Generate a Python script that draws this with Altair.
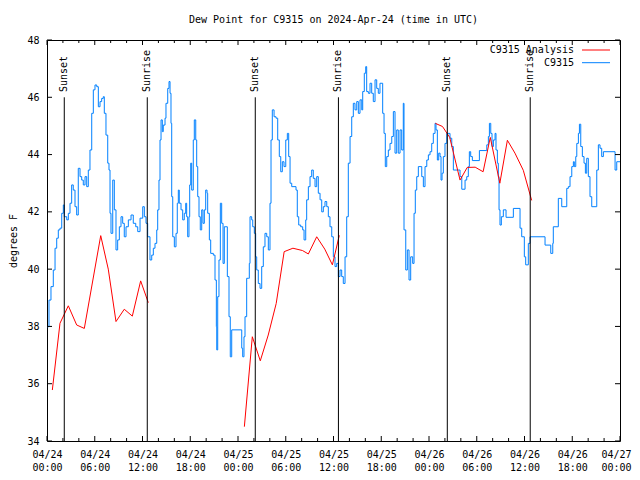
import json
import altair as alt
import pandas as pd

# ---------------- data (hours since 2024-04-24 00:00 UTC, dew point in F) ----------------
blue_hours = [
    0, 0.25, 0.50, 0.79, 1.01, 1.22, 1.42, 1.63, 1.85, 2.05,
    2.17, 2.48, 2.68, 2.89, 3.10, 3.30, 3.52, 3.73, 3.93, 4.15,
    4.36, 4.56, 4.78, 4.99, 5.19, 5.40, 5.62, 5.82, 6.03, 6.25,
    6.45, 6.66, 6.87, 7.07, 7.20, 7.41, 7.63, 7.79, 7.92, 8.04,
    8.26, 8.46, 8.67, 8.88, 9.09, 9.30, 9.51, 9.71, 9.93, 10.22,
    10.56, 10.84, 11.15, 11.40, 11.69, 12.03, 12.23, 12.44, 12.65, 12.94,
    13.16, 13.36, 13.57, 13.79, 13.91, 14.07, 14.20, 14.33, 14.49, 14.61,
    14.83, 14.95, 15.17, 15.33, 15.46, 15.58, 15.67, 15.80, 16.00, 16.21,
    16.37, 16.50, 16.62, 16.84, 17.05, 17.25, 17.43, 17.55, 17.68, 17.84,
    17.93, 18.06, 18.18, 18.38, 18.51, 18.69, 18.81, 18.94, 19.10, 19.26,
    19.44, 19.60, 19.77, 19.94, 20.11, 20.19, 20.40, 20.57, 20.90, 21.11,
    21.28, 21.33, 21.45, 21.61, 21.78, 21.95, 22.12, 22.28, 22.49, 22.66,
    22.87, 23.03, 23.21, 24.25, 24.47, 24.59, 24.75, 24.88, 25.09, 25.30,
    25.42, 25.51, 25.72, 25.85, 26.05, 26.22, 26.35, 26.55, 26.77, 26.98,
    27.18, 27.39, 27.61, 27.81, 28.02, 28.15, 28.31, 28.53, 28.78, 28.99,
    29.19, 29.37, 29.57, 29.78, 30.00, 30.20, 30.37, 30.54, 30.75, 31.29,
    31.45, 31.63, 31.88, 32.13, 32.30, 32.51, 32.63, 32.84, 33.05, 33.26,
    33.46, 33.68, 33.89, 34.09, 34.31, 34.52, 34.72, 34.93, 35.15, 35.35,
    35.56, 35.78, 35.98, 36.19, 36.40, 36.61, 36.82, 37.03, 37.23, 37.45,
    37.66, 37.86, 38.08, 38.29, 38.49, 38.70, 38.92, 39.12, 39.33, 39.55,
    39.67, 39.87, 40.05, 40.17, 40.38, 40.59, 40.80, 41.00, 41.22, 41.43,
    41.63, 41.84, 42.18, 42.35, 42.51, 42.69, 42.89, 43.10, 43.32, 43.52,
    43.73, 43.94, 44.14, 44.36, 44.57, 44.77, 44.86, 45.08, 45.28, 45.49,
    45.70, 45.95, 46.12, 46.28, 46.46, 46.66, 46.87, 47.09, 47.29, 47.50,
    47.72, 47.92, 48.13, 48.34, 48.54, 48.76, 48.88, 49.05, 49.22, 49.39,
    49.51, 49.64, 49.80, 50.01, 50.23, 50.64, 50.86, 51.06, 51.90, 52.12,
    52.53, 52.74, 52.94, 53.07, 53.24, 53.45, 54.33, 55.26, 55.46, 55.59,
    55.76, 55.92, 56.09, 56.30, 56.42, 56.59, 56.71, 56.80, 56.92, 57.09,
    57.34, 57.68, 58.60, 59.44, 59.65, 59.98, 60.15, 60.48, 60.70, 62.58,
    63.30, 63.55, 63.62, 64.25, 64.68, 65.31, 65.51, 65.72, 65.94, 66.14,
    66.26, 66.44, 66.57, 66.77, 66.90, 67.07, 67.27, 67.48, 67.65, 67.82,
    68.02, 68.23, 68.45, 69.08, 69.28, 69.49, 69.70, 69.91, 71.38, 71.59, 72.0,
]
blue_dewpt = [
    37.99, 38.92, 39.39, 39.97, 40.73, 41.08, 41.37, 41.43, 41.95, 42.24,
    41.83, 41.72, 41.95, 42.30, 42.94, 42.76, 42.18, 41.89, 43.52, 43.23,
    43.11, 42.94, 43.23, 42.88, 43.46, 44.16, 45.44, 46.26, 46.43, 46.37,
    45.67, 45.85, 45.96, 46.02, 45.44, 44.68, 43.70, 43.46, 41.95, 41.25,
    43.11, 42.07, 40.67, 41.02, 41.48, 41.83, 41.60, 41.13, 41.48, 41.72,
    41.89, 41.60, 41.48, 41.31, 41.78, 42.18, 41.83, 41.60, 41.13, 40.32,
    40.49, 40.73, 40.90, 41.37, 42.07, 43.11, 44.51, 45.21, 44.80, 45.03,
    45.27, 45.79, 46.31, 46.55, 46.14, 45.09, 42.53, 41.13, 40.78, 41.25,
    42.30, 42.76, 42.30, 42.07, 41.72, 41.95, 42.30, 41.83, 41.13, 41.83,
    42.94, 43.70, 42.76, 44.51, 45.21, 44.51, 43.58, 42.53, 41.83, 41.37,
    42.07, 41.60, 42.07, 42.76, 42.65, 41.95, 41.02, 40.55, 40.49, 39.62,
    37.99, 37.18, 39.04, 40.32, 42.30, 41.60, 40.20, 41.48, 41.48, 39.74,
    38.34, 36.94, 37.88, 37.88, 37.24, 36.94, 37.64, 38.34, 39.68, 39.68,
    40.20, 41.83, 41.72, 41.48, 41.25, 40.43, 39.97, 39.50, 39.33, 40.09,
    40.78, 41.25, 41.13, 40.67, 42.30, 44.51, 45.56, 45.32, 45.27, 44.51,
    43.93, 43.40, 43.75, 43.58, 44.51, 44.74, 43.93, 43.00, 42.88, 42.76,
    41.83, 41.54, 41.48, 41.37, 41.02, 41.72, 42.42, 42.88, 43.23, 43.46,
    43.17, 42.88, 43.23, 42.65, 42.42, 42.00, 42.18, 42.36, 42.18, 41.83,
    41.48, 41.13, 40.43, 40.09, 40.20, 39.74, 39.97, 39.74, 39.50, 40.43,
    41.83, 43.70, 44.63, 45.32, 45.79, 45.56, 45.85, 45.44, 45.91, 45.56,
    46.20, 46.84, 47.07, 46.20, 46.14, 46.49, 46.14, 45.85, 46.61, 46.31,
    46.14, 46.49, 45.44, 44.74, 43.58, 43.93, 44.16, 44.39, 44.63, 45.50,
    44.05, 44.86, 44.05, 44.86, 44.16, 45.79, 41.37, 39.97, 40.67, 39.62,
    40.43, 40.20, 41.95, 42.76, 43.23, 43.58, 43.58, 43.23, 42.88, 43.58,
    43.81, 43.99, 44.10, 44.39, 44.74, 45.09, 44.86, 43.81, 44.05, 43.93,
    43.11, 43.35, 43.93, 44.39, 44.74, 44.57, 44.28, 43.46, 43.23, 42.79,
    43.11, 43.23, 43.58, 44.10, 43.93, 43.79, 44.14, 44.34, 44.63, 45.09,
    44.74, 44.28, 44.51, 44.74, 44.16, 43.70, 43.23, 42.07, 41.54, 41.83,
    42.07, 41.81, 42.12, 41.43, 41.13, 40.43, 40.15, 40.90, 41.13, 40.84,
    40.55, 40.90, 41.48, 42.47, 42.18, 42.82, 42.88, 43.23, 43.58, 43.75,
    43.58, 43.93, 44.39, 44.74, 45.06, 44.28, 43.93, 43.70, 43.35, 43.87,
    43.23, 42.53, 42.18, 43.46, 44.34, 44.22, 43.93, 44.10, 43.46, 43.75, 43.75,
]

red_hours_day1 = [0.67, 1.63, 2.68, 3.73, 4.69, 6.75, 7.7, 8.67, 9.71, 10.72, 11.77, 12.73]
red_dewpt_day1 = [35.78, 38.11, 38.72, 38.05, 37.93, 41.17, 40.0, 38.17, 38.60, 38.36, 39.59, 38.83]
red_hours_day2 = [24.8, 25.8, 26.8, 27.8, 28.8, 29.8, 30.9, 32.1, 32.84, 33.89, 34.9, 35.86, 36.73]
red_dewpt_day2 = [34.5, 37.64, 36.8, 37.7, 38.8, 40.61, 40.73, 40.65, 40.53, 41.13, 40.70, 40.15, 41.18]
red_hours_day3 = [48.8, 49.7, 50.6, 51.9, 52.8, 53.8, 54.8, 55.7, 56.9, 57.85, 58.8, 59.85, 60.9]
red_dewpt_day3 = [45.09, 44.98, 44.6, 43.11, 43.55, 43.56, 43.40, 44.6, 43.0, 44.5, 44.05, 43.45, 42.4]

sunset_hours = [2.17, 26.17, 50.3]
sunrise_hours = [12.6, 36.62, 60.72]

x_tick_hours = list(range(0, 73, 6))
x_minor_hours = [h for h in range(0, 73, 2) if h % 6 != 0]
x_tick_days = ["04/24", "04/24", "04/24", "04/24", "04/25", "04/25", "04/25", "04/25",
               "04/26", "04/26", "04/26", "04/26", "04/27"]
x_tick_times = ["00:00", "06:00", "12:00", "18:00"] * 3 + ["00:00"]
y_ticks = [34, 36, 38, 40, 42, 44, 46, 48]

series_names = ["C9315 Analysis", "C9315"]
series_colors = ["#ff0000", "#0080ff"]

# ---------------- chart ----------------
W, H = 573, 401
FONT = "DejaVu Sans Mono"
FS = 10

blue_df = pd.DataFrame({"h": blue_hours, "v": blue_dewpt})
red_df = pd.concat([
    pd.DataFrame({"h": red_hours_day1, "v": red_dewpt_day1, "seg": 1}),
    pd.DataFrame({"h": red_hours_day2, "v": red_dewpt_day2, "seg": 2}),
    pd.DataFrame({"h": red_hours_day3, "v": red_dewpt_day3, "seg": 3}),
])
sun_df = pd.DataFrame({
    "h": sunset_hours + sunrise_hours,
    "label": ["Sunset"] * len(sunset_hours) + ["Sunrise"] * len(sunrise_hours),
})
major_df = pd.DataFrame({"h": x_tick_hours})
minor_df = pd.DataFrame({"h": x_minor_hours})
yt_df = pd.DataFrame({"v": y_ticks})

xs = alt.Scale(domain=[0, 72], nice=False, zero=False)
ys = alt.Scale(domain=[34, 48], nice=False, zero=False)

label_expr = ("[" + json.dumps(x_tick_days) + "[round(datum.value/6)], "
              + json.dumps(x_tick_times) + "[round(datum.value/6)]]")

x_axis = alt.Axis(values=x_tick_hours, labelExpr=label_expr, ticks=False, domain=False,
                  grid=False, labelFont=FONT, labelFontSize=FS, labelColor="black",
                  labelPadding=8, labelLineHeight=13, labelAngle=0, labelOverlap=False,
                  labelFlush=False, labelBaseline="top", title=None,
                  labelOffset={"condition": {"test": "datum.value == 72", "value": -4},
                               "value": 0})
y_axis = alt.Axis(values=y_ticks, ticks=False, domain=False, grid=False,
                  labelFont=FONT, labelFontSize=FS, labelColor="black", labelPadding=8,
                  title="degrees F", titleFont=FONT, titleFontSize=FS,
                  titleFontWeight="normal", titleColor="black", titleX=-34, titleY=H / 2,
                  titleAlign="center", titleBaseline="middle", titleAngle=270)

X = alt.X("h:Q", scale=xs, axis=x_axis)
Y = alt.Y("v:Q", scale=ys, axis=y_axis)

blue = alt.Chart(blue_df).mark_line(color=series_colors[1], strokeWidth=1,
                                    interpolate="step-after").encode(x=X, y=Y)
red = alt.Chart(red_df).mark_line(color=series_colors[0], strokeWidth=1).encode(
    x=X, y=Y, detail="seg:N")
sun_lines = alt.Chart(sun_df).mark_rule(color="black", strokeWidth=1).encode(
    x=X, y=alt.datum(46), y2=alt.datum(34))
sun_text = alt.Chart(sun_df).mark_text(font=FONT, fontSize=FS, angle=270, align="left",
                                       baseline="middle", color="black").encode(
    x=X, y=alt.value(52), text="label:N")

tick_style = dict(color="black", strokeWidth=1)
ticks = [
    alt.Chart(major_df).mark_rule(**tick_style).encode(x=X, y=alt.value(H), y2=alt.value(H - 5)),
    alt.Chart(major_df).mark_rule(**tick_style).encode(x=X, y=alt.value(0), y2=alt.value(5)),
    alt.Chart(minor_df).mark_rule(**tick_style).encode(x=X, y=alt.value(H), y2=alt.value(H - 3)),
    alt.Chart(minor_df).mark_rule(**tick_style).encode(x=X, y=alt.value(0), y2=alt.value(3)),
    alt.Chart(yt_df).mark_rule(**tick_style).encode(y=Y, x=alt.value(0), x2=alt.value(5)),
    alt.Chart(yt_df).mark_rule(**tick_style).encode(y=Y, x=alt.value(W), x2=alt.value(W - 5)),
]

legend = []
for i, (name, col) in enumerate(zip(series_names, series_colors)):
    ly = 10 + i * 12.7
    ldf = pd.DataFrame({"name": [name]})
    legend.append(alt.Chart(ldf).mark_text(font=FONT, fontSize=FS, align="right",
                                           baseline="middle", color="black").encode(
        x=alt.value(527), y=alt.value(ly), text="name:N"))
    legend.append(alt.Chart(ldf).mark_rule(color=col, strokeWidth=1).encode(
        x=alt.value(535), x2=alt.value(563), y=alt.value(ly)))

chart = alt.layer(blue, red, sun_lines, sun_text, *ticks, *legend).properties(
    width=W, height=H,
    title=alt.TitleParams("Dew Point for C9315 on 2024-Apr-24 (time in UTC)", font=FONT,
                          fontSize=FS, fontWeight="normal", color="black",
                          anchor="middle", baseline="middle", offset=5),
    autosize=alt.AutoSizeParams(type="none"),
    padding={"left": 39, "top": 32, "right": 12, "bottom": 31},
    background="white",
).configure_view(stroke="black", strokeWidth=1)

chart.save("out.html", embed_options={"renderer": "svg", "actions": False})
